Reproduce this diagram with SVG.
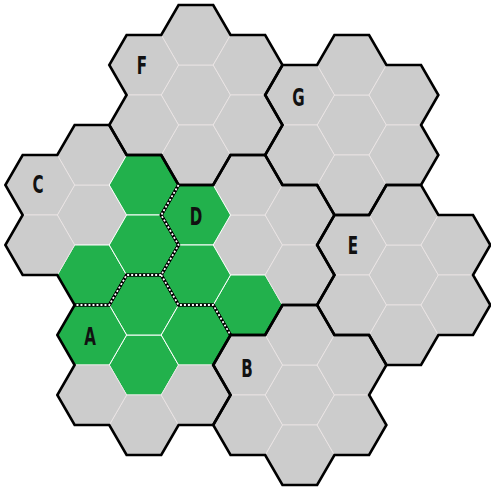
<svg xmlns="http://www.w3.org/2000/svg" xmlns:xlink="http://www.w3.org/1999/xlink" width="491" height="493" viewBox="0 0 491 493">
<style>
.g{fill:#cccccc;stroke:#ece6e6;stroke-width:0.8}
.gr{fill:#22b14c;stroke:#ffffff;stroke-width:1}
.out{fill:none;stroke:#000;stroke-width:2.6;stroke-linejoin:miter}
.dk{fill:none;stroke:#000;stroke-width:3.2}
.dw{fill:none;stroke:#fff;stroke-width:1.8;stroke-dasharray:2 2}
.lb{font-family:"DejaVu Sans Condensed","Liberation Sans",sans-serif;font-weight:bold;font-size:24px;fill:#111;text-anchor:middle}
</style>
<defs>
<polygon id="hex" points="-34.64,0 -17.32,-30 17.32,-30 34.64,0 17.32,30 -17.32,30"/>
<path id="flower" d="M-17.32,-90 L17.32,-90 34.64,-60 69.28,-60 86.6,-30 69.28,0 86.6,30 69.28,60 34.64,60 17.32,90 -17.32,90 -34.64,60 -69.28,60 -86.6,30 -69.28,0 -86.6,-30 -69.28,-60 -34.64,-60 Z"/>
</defs>
<rect width="491" height="493" fill="#fff"/>
<g id="region-F">
<use href="#hex" class="g" x="195.88" y="95"/><use href="#hex" class="g" x="195.88" y="35"/><use href="#hex" class="g" x="195.88" y="155"/>
<use href="#hex" class="g" x="143.92" y="65"/><use href="#hex" class="g" x="143.92" y="125"/><use href="#hex" class="g" x="247.84" y="65"/><use href="#hex" class="g" x="247.84" y="125"/>
</g>
<g id="region-G">
<use href="#hex" class="g" x="351.76" y="125"/><use href="#hex" class="g" x="351.76" y="65"/><use href="#hex" class="g" x="351.76" y="185"/>
<use href="#hex" class="g" x="299.8" y="95"/><use href="#hex" class="g" x="299.8" y="155"/><use href="#hex" class="g" x="403.72" y="95"/><use href="#hex" class="g" x="403.72" y="155"/>
</g>
<g id="region-C">
<use href="#hex" class="g" x="91.96" y="215"/><use href="#hex" class="g" x="91.96" y="155"/><use href="#hex" class="gr" x="91.96" y="275"/>
<use href="#hex" class="g" x="40" y="185"/><use href="#hex" class="g" x="40" y="245"/><use href="#hex" class="gr" x="143.92" y="185"/><use href="#hex" class="gr" x="143.92" y="245"/>
</g>
<g id="region-D">
<use href="#hex" class="g" x="247.84" y="245"/><use href="#hex" class="g" x="247.84" y="185"/><use href="#hex" class="gr" x="247.84" y="305"/>
<use href="#hex" class="gr" x="195.88" y="215"/><use href="#hex" class="gr" x="195.88" y="275"/><use href="#hex" class="g" x="299.8" y="215"/><use href="#hex" class="g" x="299.8" y="275"/>
</g>
<g id="region-E">
<use href="#hex" class="g" x="403.72" y="275"/><use href="#hex" class="g" x="403.72" y="215"/><use href="#hex" class="g" x="403.72" y="335"/>
<use href="#hex" class="g" x="351.76" y="245"/><use href="#hex" class="g" x="351.76" y="305"/><use href="#hex" class="g" x="455.68" y="245"/><use href="#hex" class="g" x="455.68" y="305"/>
</g>
<g id="region-A">
<use href="#hex" class="gr" x="143.92" y="365"/><use href="#hex" class="gr" x="143.92" y="305"/><use href="#hex" class="g" x="143.92" y="425"/>
<use href="#hex" class="gr" x="91.96" y="335"/><use href="#hex" class="g" x="91.96" y="395"/><use href="#hex" class="gr" x="195.88" y="335"/><use href="#hex" class="g" x="195.88" y="395"/>
</g>
<g id="region-B">
<use href="#hex" class="g" x="299.8" y="395"/><use href="#hex" class="g" x="299.8" y="335"/><use href="#hex" class="g" x="299.8" y="455"/>
<use href="#hex" class="g" x="247.84" y="365"/><use href="#hex" class="g" x="247.84" y="425"/><use href="#hex" class="g" x="351.76" y="365"/><use href="#hex" class="g" x="351.76" y="425"/>
</g>
<g id="connectors">
<use href="#flower" class="out" x="195.88" y="95"/>
<use href="#flower" class="out" x="351.76" y="125"/>
<use href="#flower" class="out" x="91.96" y="215"/>
<use href="#flower" class="out" x="247.84" y="245"/>
<use href="#flower" class="out" x="403.72" y="275"/>
<use href="#flower" class="out" x="143.92" y="365"/>
<use href="#flower" class="out" x="299.8" y="395"/>
<path class="dk" d="M178.56,185 L161.24,215 178.56,245 161.24,275 126.6,275 109.28,305 74.64,305 M161.24,275 L178.56,305 213.2,305 230.52,335"/>
<path class="dw" d="M178.56,185 L161.24,215 178.56,245 161.24,275 126.6,275 109.28,305 74.64,305 M161.24,275 L178.56,305 213.2,305 230.52,335"/>
</g>
<g id="labels">
<text class="lb" transform="translate(142,74) scale(0.7,1)">F</text>
<text class="lb" transform="translate(298.5,106) scale(0.7,1)">G</text>
<text class="lb" transform="translate(38,193) scale(0.7,1)">C</text>
<text class="lb" transform="translate(196,225) scale(0.7,1)">D</text>
<text class="lb" transform="translate(353,254) scale(0.7,1)">E</text>
<text class="lb" transform="translate(90,345) scale(0.7,1)">A</text>
<text class="lb" transform="translate(247,377) scale(0.7,1)">B</text>
</g>
</svg>
